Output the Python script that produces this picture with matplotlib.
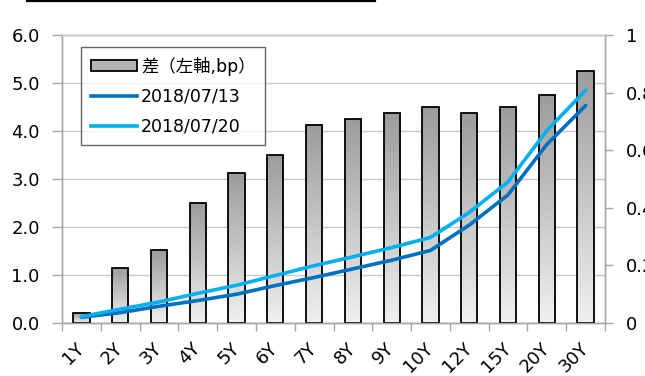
import numpy as np
import matplotlib
matplotlib.use("Agg")
import matplotlib.pyplot as plt
from matplotlib.colors import LinearSegmentedColormap
from matplotlib.lines import Line2D
from matplotlib.patches import Patch

plt.rcParams['font.family'] = ['DejaVu Sans', 'Noto Sans CJK JP']

# tenors and yields
tenors = ["1Y", "2Y", "3Y", "4Y", "5Y", "6Y", "7Y", "8Y", "9Y", "10Y", "12Y", "15Y", "20Y", "30Y"]
spread_bp = [0.20, 1.15, 1.52, 2.50, 3.12, 3.50, 4.12, 4.25, 4.37, 4.50, 4.37, 4.50, 4.76, 5.26]
yield_0713 = [0.020, 0.036, 0.058, 0.078, 0.100, 0.130, 0.158, 0.188, 0.218, 0.252, 0.340, 0.445, 0.620, 0.755]
yield_0720 = [0.022, 0.048, 0.073, 0.103, 0.131, 0.165, 0.199, 0.230, 0.262, 0.297, 0.384, 0.490, 0.668, 0.808]

left_ticks = [0, 1, 2, 3, 4, 5, 6]
right_ticks = [0, 0.2, 0.4, 0.6, 0.8, 1.0]
right_labels = ["0", "0.2", "0.4", "0.6", "0.8", "1"]

grid_col = "#c8c8c8"
axis_col = "#a6a6a6"
dark_blue = "#0070C0"
light_blue = "#00B0F0"

fig = plt.figure(figsize=(6.45, 3.76), dpi=100)
ax = fig.add_axes([62 / 645, 53 / 376, 543 / 645, 288 / 376])
ax2 = ax.twinx()

x = np.arange(len(tenors))

# bars with a vertical grey gradient (light at the bottom, darker at the top)
bar_cmap = LinearSegmentedColormap.from_list("bar_grad", ["#f0f0f0", "#9c9c9c"])
grad = np.linspace(0, 1, 256).reshape(-1, 1)
bars = ax.bar(x, spread_bp, width=0.42, facecolor="none", edgecolor="black",
              linewidth=1.3, zorder=3)
for b in bars:
    x0, y0 = b.get_xy()
    im = ax.imshow(grad, extent=[x0, x0 + b.get_width(), y0, y0 + b.get_height()],
                   aspect="auto", cmap=bar_cmap, origin="lower", zorder=2.5)
    im.set_clip_path(b)

ax.set_xlim(-0.5, len(tenors) - 0.5)
ax.set_ylim(0, 6)
ax.set_yticks(left_ticks)
ax.set_yticklabels([f"{v:.1f}" for v in left_ticks])
ax.yaxis.grid(True, color=grid_col, linewidth=1.0, zorder=0)
ax.set_axisbelow(True)

# category labels centred on bars, tick marks between categories
ax.set_xticks(x)
ax.set_xticklabels(tenors, rotation=45, ha="right", va="center", rotation_mode="anchor")
ax.set_xticks(np.arange(-0.5, len(tenors), 1), minor=True)
ax.tick_params(axis="x", which="major", length=0, pad=16, labelsize=13)
ax.tick_params(axis="x", which="minor", length=6, color=axis_col, width=1)
ax.tick_params(axis="y", length=7, color=axis_col, width=1, pad=9, labelsize=13)

# yield lines on the right axis
ax2.plot(x, yield_0713, color=dark_blue, linewidth=2.6, solid_capstyle="round", zorder=4)
ax2.plot(x, yield_0720, color=light_blue, linewidth=2.6, solid_capstyle="round", zorder=4)
ax2.set_ylim(0, 1)
ax2.set_yticks(right_ticks)
ax2.set_yticklabels(right_labels)
ax2.tick_params(axis="y", length=6, color=axis_col, width=1, pad=9, labelsize=13)

for a in (ax, ax2):
    for side in ("left", "right", "bottom", "top"):
        a.spines[side].set_color(axis_col)
        a.spines[side].set_linewidth(1.0)
    a.spines["top"].set_color(grid_col)

handles = [
    Patch(facecolor="#b4b4b4", edgecolor="black", linewidth=1.3),
    Line2D([0], [0], color=dark_blue, linewidth=2.6),
    Line2D([0], [0], color=light_blue, linewidth=2.6),
]
labels = ["差（左軸,bp）", "2018/07/13", "2018/07/20"]
leg = ax2.legend(handles, labels, loc="upper left", bbox_to_anchor=(0.035, 0.958),
                 borderaxespad=0, fontsize=12.5, frameon=True, fancybox=False,
                 handlelength=2.7, handleheight=0.55, handletextpad=0.2,
                 labelspacing=0.7, borderpad=0.55)
leg.get_frame().set_edgecolor("#404040")
leg.get_frame().set_linewidth(1.0)

# rule across the top of the sheet
fig.add_artist(Line2D([27 / 645, 375 / 645], [1 - 1.2 / 376] * 2, color="black", linewidth=1.6))

fig.savefig("out.png", dpi=100)
